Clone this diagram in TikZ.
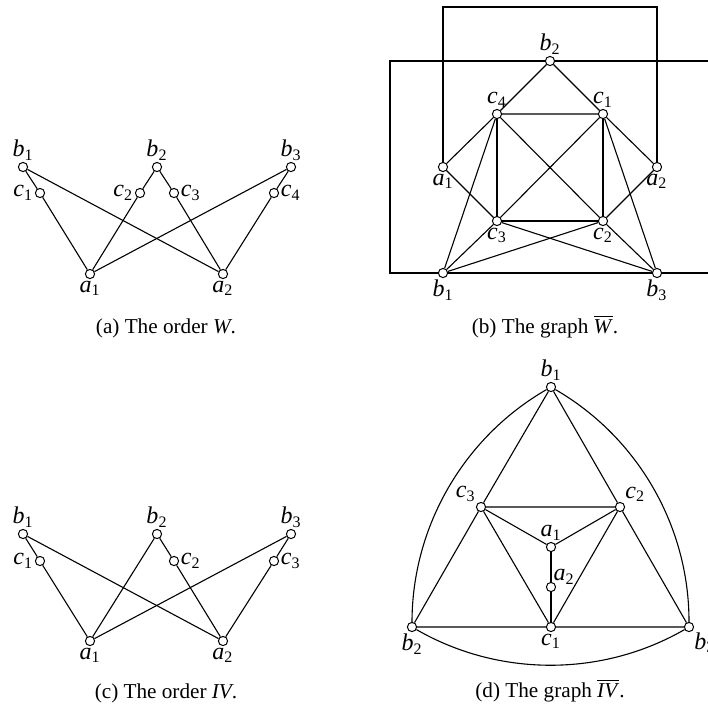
\documentclass[tikz,border=0pt]{standalone}
\usepackage{fontspec}
\setmainfont{Liberation Serif}
\usetikzlibrary{positioning}
\newcommand{\vl}[2]{\textit{#1}\textsubscript{#2}}

\begin{document}
\begin{tikzpicture}[
    x=0.5pt, y=-0.5pt,
    line width=0.55pt,
    vtx/.style={circle, draw, fill=white, inner sep=0pt, minimum size=4.6pt, line width=0.5pt},
    every label/.style={inner sep=0.6pt, font=\fontsize{12}{14}\selectfont},
    subcap/.style={anchor=base, inner sep=0pt, font=\fontsize{10.6}{12}\selectfont}
]
    \useasboundingbox (0,0) rectangle (708,709);
    \clip (0,0) rectangle (708,709);

    % (a) the order W
    \node[vtx, label={above:\vl{b}{1}}] (oW-b1) at (23,167) {};
    \node[vtx, label={above:\vl{b}{2}}] (oW-b2) at (157,167) {};
    \node[vtx, label={above:\vl{b}{3}}] (oW-b3) at (291,167) {};
    \node[vtx, label={left:\vl{c}{1}}] (oW-c1) at (40,193) {};
    \node[vtx, label={left:\vl{c}{2}}] (oW-c2) at (140,193) {};
    \node[vtx, label={right:\vl{c}{3}}] (oW-c3) at (174,193) {};
    \node[vtx, label={right:\vl{c}{4}}] (oW-c4) at (274,193) {};
    \node[vtx, label={below:\vl{a}{1}}] (oW-a1) at (90,274) {};
    \node[vtx, label={below:\vl{a}{2}}] (oW-a2) at (223,274) {};
    \draw (oW-b1) -- (oW-c1) -- (oW-a1);
    \draw (oW-b1) -- (oW-a2);
    \draw (oW-b2) -- (oW-c2) -- (oW-a1);
    \draw (oW-b2) -- (oW-c3) -- (oW-a2);
    \draw (oW-b3) -- (oW-a1);
    \draw (oW-b3) -- (oW-c4) -- (oW-a2);
    \node[subcap] (capa) at (166,333) {(a) The order \textit{W}.};

    % (b) the graph of W
    \node[vtx, label={above:\vl{b}{2}}] (gW-b2) at (550,61) {};
    \node[vtx, label={above:\vl{c}{4}}] (gW-c4) at (497,114) {};
    \node[vtx, label={above:\vl{c}{1}}] (gW-c1) at (603,114) {};
    \node[vtx, label={below:\vl{a}{1}}] (gW-a1) at (443,167) {};
    \node[vtx, label={below:\vl{a}{2}}] (gW-a2) at (657,167) {};
    \node[vtx, label={below:\vl{c}{3}}] (gW-c3) at (497,221) {};
    \node[vtx, label={below:\vl{c}{2}}] (gW-c2) at (603,221) {};
    \node[vtx, label={below:\vl{b}{1}}] (gW-b1) at (443,273) {};
    \node[vtx, label={below:\vl{b}{3}}] (gW-b3) at (657,273) {};
    \coordinate (gW-top) at (550,7);
    \coordinate (gW-l) at (390,61);
    \coordinate (gW-r) at (710,61);
    \draw (gW-b2) -- (gW-c4) -- (gW-c1) -- (gW-b2);
    \draw (gW-c4) -- (gW-c3) -- (gW-c2) -- (gW-c1);
    \draw (gW-c4) -- (gW-c2);
    \draw (gW-c1) -- (gW-c3);
    \draw (gW-a1) -- (gW-c4);
    \draw (gW-a1) -- (gW-c3);
    \draw (gW-a2) -- (gW-c1);
    \draw (gW-a2) -- (gW-c2);
    \draw (gW-b1) -- (gW-c4);
    \draw (gW-b1) -- (gW-c3);
    \draw (gW-b1) -- (gW-c2);
    \draw (gW-b3) -- (gW-c1);
    \draw (gW-b3) -- (gW-c2);
    \draw (gW-b3) -- (gW-c3);
    \draw (gW-b1) -- (gW-b3);
    \draw (gW-a1) |- (gW-top) -| (gW-a2);
    \draw (gW-b2) -- (gW-l) |- (gW-b1);
    \draw (gW-b2) -- (gW-r) |- (gW-b3);
    \node[subcap] (capb) at (545,333) {(b) The graph $\overline{\mbox{\textit{W}}}$.};

    % (c) the order IV
    \node[vtx, label={above:\vl{b}{1}}] (oIV-b1) at (23,534) {};
    \node[vtx, label={above:\vl{b}{2}}] (oIV-b2) at (157,534) {};
    \node[vtx, label={above:\vl{b}{3}}] (oIV-b3) at (291,534) {};
    \node[vtx, label={left:\vl{c}{1}}] (oIV-c1) at (40,561) {};
    \node[vtx, label={right:\vl{c}{2}}] (oIV-c2) at (174,561) {};
    \node[vtx, label={right:\vl{c}{3}}] (oIV-c3) at (274,561) {};
    \node[vtx, label={below:\vl{a}{1}}] (oIV-a1) at (90,641) {};
    \node[vtx, label={below:\vl{a}{2}}] (oIV-a2) at (223,641) {};
    \draw (oIV-b1) -- (oIV-c1) -- (oIV-a1);
    \draw (oIV-b1) -- (oIV-a2);
    \draw (oIV-b2) -- (oIV-a1);
    \draw (oIV-b2) -- (oIV-c2) -- (oIV-a2);
    \draw (oIV-b3) -- (oIV-a1);
    \draw (oIV-b3) -- (oIV-c3) -- (oIV-a2);
    \node[subcap] (capc) at (166,698) {(c) The order \textit{IV}.};

    % (d) the graph of IV
    \node[vtx, label={above:\vl{b}{1}}] (gIV-b1) at (551,387) {};
    \node[vtx, label={above left:\vl{c}{3}}] (gIV-c3) at (481,507) {};
    \node[vtx, label={above right:\vl{c}{2}}] (gIV-c2) at (620,507) {};
    \node[vtx, label={above:\vl{a}{1}}] (gIV-a1) at (551,547) {};
    \node[vtx, label={[label distance=-2pt]above right:\vl{a}{2}}] (gIV-a2) at (551,587) {};
    \node[vtx, label={below:\vl{b}{2}}] (gIV-b2) at (412,627) {};
    \node[vtx, label={below:\vl{c}{1}}] (gIV-c1) at (551,627) {};
    \node[vtx, label={below right:\vl{b}{3}}] (gIV-b3) at (689,627) {};
    \draw (gIV-b1) -- (gIV-c3) -- (gIV-b2) -- (gIV-c1) -- (gIV-b3) -- (gIV-c2) -- (gIV-b1);
    \draw (gIV-c3) -- (gIV-c2) -- (gIV-c1) -- (gIV-c3);
    \draw (gIV-c3) -- (gIV-a1) -- (gIV-c2);
    \draw (gIV-a1) -- (gIV-a2) -- (gIV-c1);
    \draw (gIV-b1) to[bend right=30, looseness=0.91] (gIV-b2);
    \draw (gIV-b2) to[bend right=30, looseness=0.91] (gIV-b3);
    \draw (gIV-b3) to[bend right=30, looseness=0.91] (gIV-b1);
    \node[subcap] (capd) at (550,697) {(d) The graph $\overline{\mbox{\textit{IV}}}$.};
\end{tikzpicture}
\end{document}
